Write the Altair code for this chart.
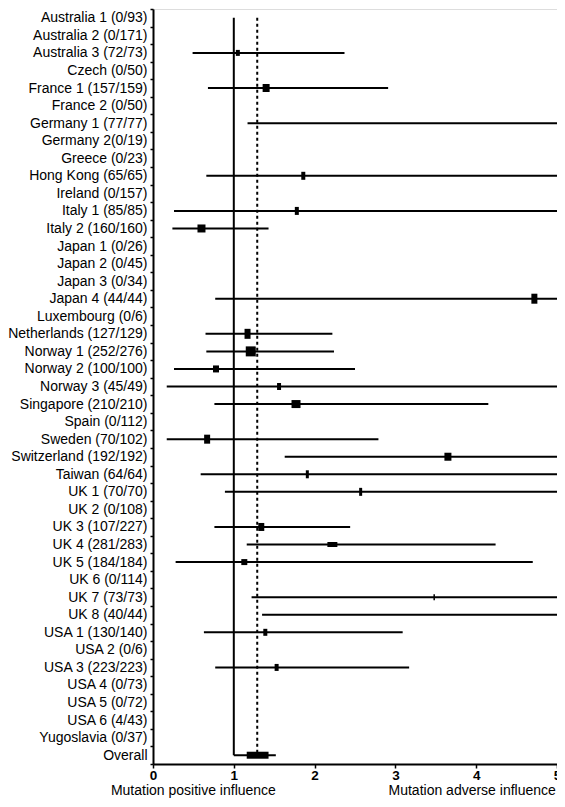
import altair as alt
import pandas as pd

labels = [
    "Australia 1 (0/93)", "Australia 2 (0/171)", "Australia 3 (72/73)", "Czech (0/50)",
    "France 1 (157/159)", "France 2 (0/50)", "Germany 1 (77/77)", "Germany 2(0/19)",
    "Greece (0/23)", "Hong Kong (65/65)", "Ireland (0/157)", "Italy 1 (85/85)",
    "Italy 2 (160/160)", "Japan 1 (0/26)", "Japan 2 (0/45)", "Japan 3 (0/34)",
    "Japan 4 (44/44)", "Luxembourg (0/6)", "Netherlands (127/129)", "Norway 1 (252/276)",
    "Norway 2 (100/100)", "Norway 3 (45/49)", "Singapore (210/210)", "Spain (0/112)",
    "Sweden (70/102)", "Switzerland (192/192)", "Taiwan (64/64)", "UK 1 (70/70)",
    "UK 2 (0/108)", "UK 3 (107/227)", "UK 4 (281/283)", "UK 5 (184/184)",
    "UK 6 (0/114)", "UK 7 (73/73)", "UK 8 (40/44)", "USA 1 (130/140)",
    "USA 2 (0/6)", "USA 3 (223/223)", "USA 4 (0/73)", "USA 5 (0/72)",
    "USA 6 (4/43)", "Yugoslavia (0/37)", "Overall",
]
N = None
# lower CI, estimate, upper CI (upper values beyond the axis run off the right edge)
lo = [N, N, 0.49, N, 0.68, N, 1.17, N, N, 0.66, N, 0.26, 0.24, N, N, N, 0.77, N, 0.65, 0.66,
      0.26, 0.17, 0.76, N, 0.17, 1.63, 0.59, 0.89, N, 0.76, 1.16, 0.28, N, 1.22, 1.35, 0.63,
      N, 0.77, N, N, N, N, 1.0]
est = [N, N, 1.05, N, 1.40, N, N, N, N, 1.86, N, 1.78, 0.60, N, N, N, 4.72, N, 1.17, 1.21,
       0.78, 1.56, 1.77, N, 0.67, 3.65, 1.91, 2.57, N, 1.34, 2.22, 1.13, N, 3.48, N, 1.39,
       N, 1.53, N, N, N, N, N]
hi = [N, N, 2.37, N, 2.91, N, 6.0, N, N, 6.0, N, 6.0, 1.43, N, N, N, 6.0, N, 2.22, 2.24,
      2.50, 6.0, 4.15, N, 2.79, 6.0, 6.0, 6.0, N, 2.44, 4.24, 4.70, N, 6.0, 6.0, 3.09,
      N, 3.17, N, N, N, N, 1.52]
# study weight markers (width, height)
box_w = [0, 0, 4, 0, 7, 0, 0, 0, 0, 4, 0, 4, 8, 0, 0, 0, 6, 0, 6, 10,
         6, 4, 9, 0, 6, 7, 3, 3, 0, 6, 10, 6, 0, 1.5, 0, 4,
         0, 4, 0, 0, 0, 0, 0]
box_h = [0, 0, 6, 0, 8, 0, 0, 0, 0, 8, 0, 8, 8, 0, 0, 0, 10, 0, 10, 10,
         7, 7, 8, 0, 9, 8, 8, 8, 0, 8, 5, 6, 0, 6, 0, 7,
         0, 7, 0, 0, 0, 0, 0]

overall_label = ["Overall"]
overall_box = [1.16, 1.43]
pooled_estimate = [1.29]
no_effect = [1.0]
axis_notes = ["Mutation positive influence", "Mutation adverse influence"]
axis_note_x = [0.5, 3.95]

df = pd.DataFrame(dict(study=labels, lo=lo, est=est, hi=hi, bw=box_w, bh=box_h))
df["shape"] = [
    f"M{-w/10},{-h/10}H{w/10}V{h/10}H{-w/10}Z" for w, h in zip(df.bw, df.bh)
]
lines_df = df.dropna(subset=["lo", "hi"])
marks_df = df.dropna(subset=["est"])

FONT = "Liberation Sans"
PLOT_W, PLOT_H = 404, 755

xscale = alt.Scale(domain=[0, 5], nice=False, zero=False)
yscale = alt.Scale(type="band", domain=labels, paddingInner=0, paddingOuter=0)

x_axis = alt.Axis(
    title=None, values=[0, 1, 2, 3, 4, 5], format="d", grid=False,
    domainColor="black", domainWidth=2, tickColor="black", tickWidth=1.5, tickSize=4,
    labelFont=FONT, labelFontSize=13.5, labelFontWeight="bold", labelColor="black",
    labelPadding=0, labelFlush=False,
)
y_axis = alt.Axis(
    title=None, tickBand="extent", grid=False,
    domainColor="black", domainWidth=2, tickColor="black", tickWidth=1.5, tickSize=3,
    labelFont=FONT, labelFontSize=14, labelColor="black", labelPadding=3,
    labelLimit=200,
)

base_y = alt.Y("study:N", scale=yscale, sort=labels, axis=y_axis)

ci = alt.Chart(lines_df).mark_rule(color="black", strokeWidth=2, clip=True).encode(
    x=alt.X("lo:Q", scale=xscale, axis=x_axis),
    x2="hi:Q",
    y=base_y,
)

boxes = alt.Chart(marks_df).mark_point(
    filled=True, color="black", opacity=1, strokeWidth=0, clip=True
).encode(
    x=alt.X("est:Q", scale=xscale),
    y=alt.Y("study:N", scale=yscale, sort=labels),
    shape=alt.Shape("shape:N", scale=None),
    size=alt.value(100),
)

ref_df = pd.DataFrame(dict(x=no_effect, y1=[labels[0]], y2=overall_label))
ref = alt.Chart(ref_df).mark_rule(color="black", strokeWidth=2).encode(
    x=alt.X("x:Q", scale=xscale),
    y=alt.Y("y1:N", scale=yscale, sort=labels),
    y2="y2:N",
)

pooled_df = pd.DataFrame(dict(x=pooled_estimate, y1=[labels[0]], y2=overall_label))
pooled = alt.Chart(pooled_df).mark_rule(
    color="black", strokeWidth=2, strokeDash=[3, 3]
).encode(
    x=alt.X("x:Q", scale=xscale),
    y=alt.Y("y1:N", scale=yscale, sort=labels),
    y2="y2:N",
)

ov_df = pd.DataFrame(dict(study=overall_label, a=[overall_box[0]], b=[overall_box[1]]))
ov = alt.Chart(ov_df).mark_bar(color="black", height=7).encode(
    x=alt.X("a:Q", scale=xscale),
    x2="b:Q",
    y=alt.Y("study:N", scale=yscale, sort=labels),
)

note_df = pd.DataFrame(dict(t=axis_notes, x=axis_note_x))
notes = alt.Chart(note_df).mark_text(
    font=FONT, fontSize=14, color="black", baseline="middle", align="center"
).encode(
    x=alt.X("x:Q", scale=xscale),
    y=alt.value(PLOT_H + 27),
    text="t:N",
)

chart = alt.layer(ci, boxes, ref, pooled, ov, notes).properties(
    width=PLOT_W, height=PLOT_H,
    padding={"left": 145, "top": 1, "right": 0, "bottom": 35},
    autosize=alt.AutoSizeParams(type="none"),
).configure_view(stroke=None).configure(background="white")

chart.save("out.html", embed_options={"renderer": "svg", "actions": False})
